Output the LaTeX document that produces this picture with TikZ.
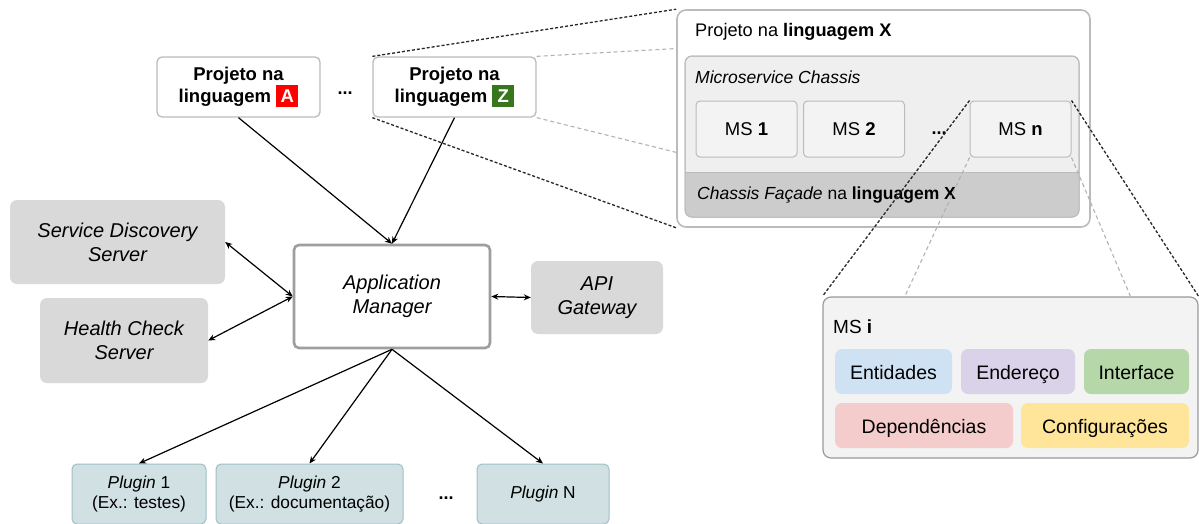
\documentclass[tikz,border=0pt]{standalone}
\usepackage{fontspec}
\setmainfont{Liberation Sans}
\usetikzlibrary{arrows.meta,calc}
\definecolor{edgegray}{HTML}{BBBBBB}
\definecolor{mgrgray}{HTML}{9E9E9E}
\definecolor{svcgray}{HTML}{D9D9D9}
\definecolor{chassisfill}{HTML}{EFEFEF}
\definecolor{facadefill}{HTML}{CCCCCC}
\definecolor{msfill}{HTML}{F3F3F3}
\definecolor{msiedge}{HTML}{999999}
\definecolor{plugfill}{HTML}{D0E0E3}
\definecolor{plugedge}{HTML}{9FBFC5}
\definecolor{langred}{HTML}{FF0000}
\definecolor{langgreen}{HTML}{38761D}
\definecolor{entblue}{HTML}{CFE2F3}
\definecolor{endpurple}{HTML}{D9D2E9}
\definecolor{intgreen}{HTML}{B6D7A8}
\definecolor{deppink}{HTML}{F4CCCC}
\definecolor{cfgyellow}{HTML}{FFE599}
\newcommand{\langtag}[2]{{\setlength{\fboxsep}{0pt}\colorbox{#1}{\makebox[22pt]{\rule[-5pt]{0pt}{22pt}\color{white}\bfseries #2}}}}
\begin{document}
\begin{tikzpicture}[x=1pt,y=-1pt,
  proj/.style={draw=edgegray, line width=1.3pt, fill=white, rounded corners=5pt,
    align=center, inner sep=0pt, font=\fontsize{18.5}{22}\selectfont\bfseries},
  svc/.style={fill=svcgray, rounded corners=7pt, align=center, inner sep=0pt,
    font=\fontsize{20}{24}\selectfont\itshape},
  mgr/.style={draw=mgrgray, line width=2.6pt, fill=white, rounded corners=5pt,
    align=center, inner sep=0pt, font=\fontsize{20}{24}\selectfont\itshape},
  msbox/.style={draw=edgegray, fill=msfill, line width=1pt, rounded corners=4pt,
    inner sep=0pt, font=\fontsize{18.5}{22}\selectfont},
  part/.style={rounded corners=7pt, inner sep=0pt, minimum height=45pt,
    text height=15pt, text depth=0pt, font=\fontsize{19.5}{22}\selectfont},
  plug/.style={draw=plugedge, fill=plugfill, line width=1pt, rounded corners=5pt,
    align=center, inner sep=0pt, minimum height=60pt, font=\fontsize{17.3}{20.5}\selectfont},
  label/.style={anchor=west, inner sep=0pt},
  dots/.style={inner sep=0pt, font=\fontsize{18}{20}\selectfont\bfseries},
  conn/.style={line width=1.2pt, -{Stealth[length=7pt,width=6pt]}},
  biconn/.style={line width=1.2pt, {Stealth[length=7pt,width=6pt]}-{Stealth[length=7pt,width=6pt]}},
  zoomdark/.style={dash pattern=on 3pt off 2pt, line width=1.3pt, draw=black!85},
  zoomlight/.style={dash pattern=on 4pt off 3pt, line width=1.1pt, draw=black!30}]
\useasboundingbox (0,0) rectangle (1199,523);

% language projects
\node[proj, minimum width=163pt, minimum height=60pt] (pa) at (238.5,87)
  {Projeto na\\[0pt]linguagem \langtag{langred}{A}};
\node[dots] (dotsab) at (345,93) {...};
\node[proj, minimum width=163pt, minimum height=60pt] (pz) at (454.5,87)
  {Projeto na\\[0pt]linguagem \langtag{langgreen}{Z}};

% project in language X
\node[draw=edgegray, line width=1.6pt, fill=white, rounded corners=9pt,
  minimum width=413pt, minimum height=217pt, inner sep=0pt] (px) at (883.5,118.5) {};
\coordinate (pxa) at ($(px.north west)!0.18!(px.south west)$);
\coordinate (pxb) at ($(px.north west)!0.655!(px.south west)$);
\draw[zoomdark] (pz.north west) -- (px.north west);
\draw[zoomdark] (pz.south west) -- (px.south west);
\draw[zoomlight] (pz.north east) -- (pxa);
\draw[zoomlight] (pz.south east) -- (pxb);
\node[label, font=\fontsize{18.2}{21}\selectfont] (pxtitle) at (695,32)
  {Projeto na \textbf{linguagem X}};

% microservice chassis with its facade
\node[draw=edgegray, line width=1pt, fill=chassisfill, rounded corners=7pt,
  minimum width=394pt, minimum height=161pt, inner sep=0pt] (chassis) at (882,136.5) {};
\begin{scope}
  \clip[rounded corners=7pt] (685,56) rectangle (1079,217);
  \fill[facadefill] (685,172) rectangle (1079,217);
\end{scope}
\draw[edgegray, line width=0.8pt] (685,172) -- (1079,172);
\draw[edgegray, line width=1pt, rounded corners=7pt] (685,56) rectangle (1079,217);
\node[label, font=\fontsize{17.5}{20}\selectfont\itshape] (chtitle) at (695,77)
  {Microservice Chassis};
\node[label, font=\fontsize{17.5}{20}\selectfont] (facade) at (697,195)
  {\textit{Chassis Façade} na \textbf{linguagem X}};

\node[msbox, minimum width=101pt, minimum height=56pt] (ms1) at (746.5,129) {MS \textbf{1}};
\node[msbox, minimum width=101pt, minimum height=56pt] (ms2) at (854,129) {MS \textbf{2}};
\node[dots] (dotsms) at (939,133) {...};
\node[msbox, minimum width=101pt, minimum height=56pt] (msn) at (1020.5,129) {MS \textbf{n}};

% detail of one microservice
\node[draw=msiedge, line width=1.2pt, fill=msfill, rounded corners=8pt,
  minimum width=375pt, minimum height=161pt, inner sep=0pt] (msi) at (1010.5,377.5) {};
\coordinate (msia) at ($(msi.north west)!0.219!(msi.north east)$);
\coordinate (msib) at ($(msi.north west)!0.819!(msi.north east)$);
\draw[zoomdark] (msn.north west) -- (msi.north west);
\draw[zoomdark] (msn.north east) -- (msi.north east);
\draw[zoomlight] (msn.south west) -- (msia);
\draw[zoomlight] (msn.south east) -- (msib);
\node[label, font=\fontsize{19}{22}\selectfont] (msititle) at (833,327) {MS \textbf{i}};
\node[part, fill=entblue, minimum width=117pt] (ent) at (893.5,371.5) {Entidades};
\node[part, fill=endpurple, minimum width=114pt] (end) at (1018,371.5) {Endereço};
\node[part, fill=intgreen, minimum width=105pt] (int) at (1136.5,371.5) {Interface};
\node[part, fill=deppink, minimum width=178pt] (dep) at (924,425.5) {Dependências};
\node[part, fill=cfgyellow, minimum width=168pt] (cfg) at (1105,425.5) {Configurações};

% application manager and services
\node[svc, minimum width=215pt, minimum height=84pt] (sd) at (117.5,242)
  {Service Discovery\\Server};
\node[svc, minimum width=168pt, minimum height=85pt] (hc) at (124,340.5)
  {Health Check\\Server};
\node[mgr, minimum width=196pt, minimum height=103pt] (am) at (392,296.5)
  {Application\\Manager};
\node[svc, minimum width=132pt, minimum height=73pt] (api) at (597,297.5)
  {API\\Gateway};

% plugins
\node[plug, minimum width=134pt] (p1) at (139,494) {\textit{Plugin} 1\\(Ex.: testes)};
\node[plug, minimum width=187pt] (p2) at (309.5,494) {\textit{Plugin} 2\\(Ex.: documentação)};
\node[dots] (dotsp) at (446,498) {...};
\node[plug, minimum width=132pt] (pn) at (543,494) {\textit{Plugin} N};

% connectors
\draw[conn] (pa.south) -- (am.north);
\draw[conn] (pz.south) -- (am.north);
\draw[biconn] (sd.east) -- (am.west);
\draw[biconn] (am.west) -- (hc.east);
\draw[biconn] (am.east) -- (api.west);
\draw[conn] (am.south) -- (p1.north);
\draw[conn] (am.south) -- (p2.north);
\draw[conn] (am.south) -- (pn.north);
\end{tikzpicture}
\end{document}
